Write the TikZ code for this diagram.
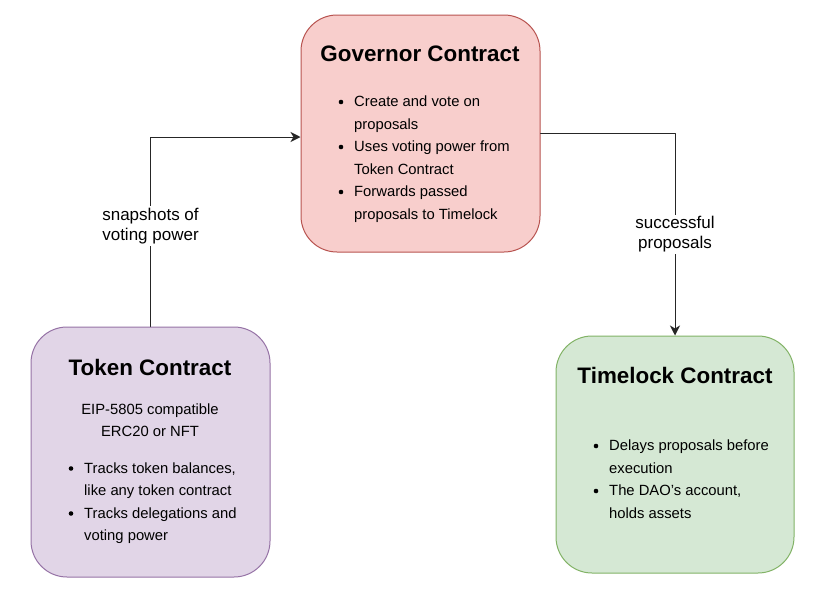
\documentclass[tikz,border=0pt]{standalone}
\usepackage{fontspec}
\setmainfont{Liberation Sans}
\usetikzlibrary{arrows.meta}

\begin{document}
\begin{tikzpicture}[x=1pt,y=-1pt,line cap=round,line join=round,
  box/.style={draw, line width=1pt, rounded corners=36pt, inner sep=0pt},
  title/.style={font=\fontsize{22.4}{26}\selectfont\bfseries, inner sep=0pt, anchor=base},
  body/.style={font=\fontsize{14.8}{18}\selectfont, inner sep=0pt, anchor=base west},
  note/.style={font=\fontsize{14.8}{18}\selectfont, inner sep=0pt, anchor=base},
  tag/.style={font=\fontsize{17}{20}\selectfont, fill=white, align=center, inner sep=2pt},
  flow/.style={draw=black!85, line width=1pt, -{Stealth[length=10pt,width=10pt,inset=3pt]}}]

\definecolor{govFill}{HTML}{F8CECC}
\definecolor{govLine}{HTML}{B85450}
\definecolor{tokFill}{HTML}{E1D5E7}
\definecolor{tokLine}{HTML}{9673A6}
\definecolor{lockFill}{HTML}{D5E8D4}
\definecolor{lockLine}{HTML}{82B366}

\path[use as bounding box, fill=white] (0,0) rectangle (830,611);

% boxes
\node[box, fill=govFill, draw=govLine, minimum width=239pt, minimum height=237pt] (governor) at (420.5,133.5) {};
\node[box, fill=tokFill, draw=tokLine, minimum width=239pt, minimum height=250pt] (token) at (150.5,452) {};
\node[box, fill=lockFill, draw=lockLine, minimum width=238pt, minimum height=237pt] (timelock) at (675,454.5) {};

% governor text
\node[title] (govTitle) at (420,61.7) {Governor Contract};
\foreach \y/\txt [count=\i] in {106.5/Create and vote on, 129/proposals,
    151.5/Uses voting power from, 174/Token Contract,
    196.5/Forwards passed, 219/proposals to Timelock}
  \node[body] (gov-\i) at (354,\y) {\txt};
\foreach \y in {102,147,192} \fill (341,\y) circle (2.3);

% token text
\node[title] (tokTitle) at (150,375) {Token Contract};
\node[note] (tokStd) at (150,414.3) {EIP-5805 compatible};
\node[note] (tokKind) at (150,436.7) {ERC20 or NFT};
\foreach \y/\txt [count=\i] in {473.3/{Tracks token balances,}, 495.8/like any token contract,
    518.3/Tracks delegations and, 540.8/voting power}
  \node[body] (tok-\i) at (84,\y) {\txt};
\foreach \y in {468.5,513.5} \fill (71,\y) circle (2.3);

% timelock text
\node[title] (lockTitle) at (675,383) {Timelock Contract};
\foreach \y/\txt [count=\i] in {450.5/Delays proposals before, 473/execution,
    495.5/{The DAO\symbol{39}s account,}, 518/holds assets}
  \node[body] (lock-\i) at (609,\y) {\txt};
\foreach \y in {446,491} \fill (596,\y) circle (2.3);

% connectors
\draw[flow] (token.north) |- node[tag, pos=0.265] (snapTag) {snapshots of\\voting power} ([yshift=-3.5pt]governor.west);
\draw[flow] (governor.east) -| node[tag, pos=0.75] (passTag) {successful\\proposals} (timelock.north);

\end{tikzpicture}
\end{document}
